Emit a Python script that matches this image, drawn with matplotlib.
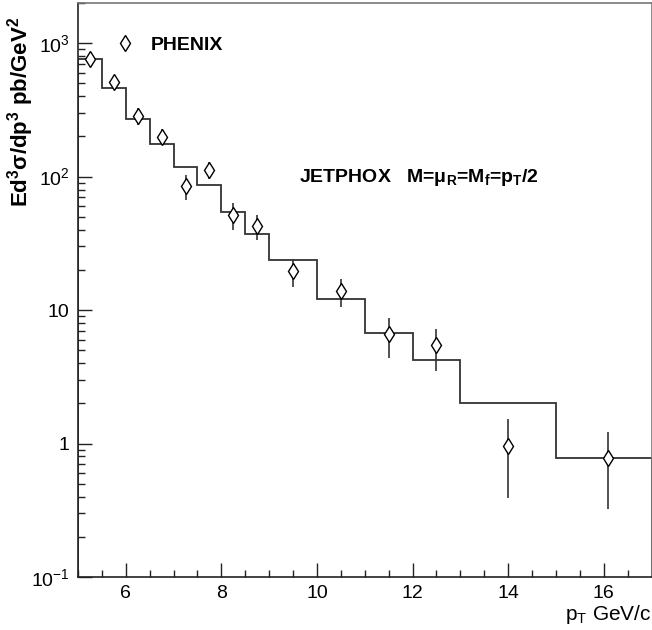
import numpy as np
import matplotlib.pyplot as plt
from matplotlib.lines import Line2D
from matplotlib.ticker import FixedLocator, FixedFormatter, MultipleLocator, NullFormatter

plt.rcParams['font.family'] = ['Liberation Sans', 'DejaVu Sans']
plt.rcParams['mathtext.default'] = 'regular'

# JETPHOX prediction (histogram)
bin_edges = [5, 5.5, 6, 6.5, 7, 7.5, 8, 8.5, 9, 10, 11, 12, 13, 15, 17]
jetphox = [764, 462, 269, 176, 118, 86, 54, 37.4, 23.6, 12.1, 6.7, 4.24, 2.01, 0.773]

# PHENIX data points
pt = [5.25, 5.75, 6.25, 6.75, 7.25, 7.75, 8.25, 8.75, 9.5, 10.5, 11.5, 12.5, 14.0, 16.1]
xsec = [764, 509, 285, 199, 85, 112, 51.8, 43, 19.7, 14.0, 6.62, 5.45, 0.955, 0.773]
err_hi = [811, 548, 327, 227, 103, 129, 63, 52, 24.1, 17.2, 8.67, 7.25, 1.53, 1.21]
err_lo = [713, 462, 243, 172, 67, 96, 40, 33.7, 14.9, 10.6, 4.36, 3.5, 0.39, 0.326]

fig = plt.figure(figsize=(6.52, 6.30), dpi=100)
ax = fig.add_axes([78/652, 1-577/630, 573.5/652, 574/630])

ax.stairs(jetphox, bin_edges, color='#333333', lw=1.3)

yerr = [np.array(xsec) - np.array(err_lo), np.array(err_hi) - np.array(xsec)]
ax.errorbar(pt, xsec, yerr=yerr, fmt='d', ms=8, mfc='white', mec='black',
            mew=1.0, ecolor='#333333', elinewidth=1.2, capsize=0)

ax.set_yscale('log')
ax.set_xlim(5, 17)
ax.set_ylim(0.1, 2000)

ax.yaxis.set_major_locator(FixedLocator([0.1, 1, 10, 100, 1000]))
ax.yaxis.set_major_formatter(FixedFormatter(['$10^{-1}$', '1', '10', '$10^{2}$', '$10^{3}$']))
minors = [m * 10.0**e for e in range(-1, 4) for m in range(2, 10)]
ax.yaxis.set_minor_locator(FixedLocator(minors))
ax.yaxis.set_minor_formatter(NullFormatter())
ax.xaxis.set_major_locator(MultipleLocator(2))
ax.xaxis.set_minor_locator(MultipleLocator(0.5))

ax.tick_params(which='both', direction='in', top=False, right=False,
               labelsize=14, width=1.0, color='#222222')
ax.tick_params(which='major', length=10, pad=6)
ax.tick_params(which='minor', length=5)
for s in ax.spines.values():
    s.set_linewidth(1.2)
    s.set_color('#222222')
ax.spines['top'].set_color('#777777')
ax.spines['right'].set_color('#777777')

ax.set_ylabel('Ed$^3\\sigma$/dp$^3$ pb/GeV$^2$', fontsize=16, fontweight='bold')
ax.yaxis.set_label_coords(-0.074, 0.81)
ax.set_xlabel('p$_T$ GeV/c', fontsize=15, ha='right')
ax.xaxis.set_label_coords(1.0, -0.046)

ax.text(0.385, 0.688, 'JETPHOX   M=$\\mu_R$=M$_f$=p$_T$/2', transform=ax.transAxes,
        fontsize=14, fontweight='bold')

handle = Line2D([], [], ls='none', marker='d', ms=8, mfc='white', mec='black', mew=1.0)
ax.legend([handle], ['PHENIX'], loc='upper left', bbox_to_anchor=(0.035, 0.972),
          frameon=False, handlelength=1.0, handletextpad=0.8,
          prop={'weight': 'bold', 'size': 14})

fig.savefig('out.png', dpi=100)
